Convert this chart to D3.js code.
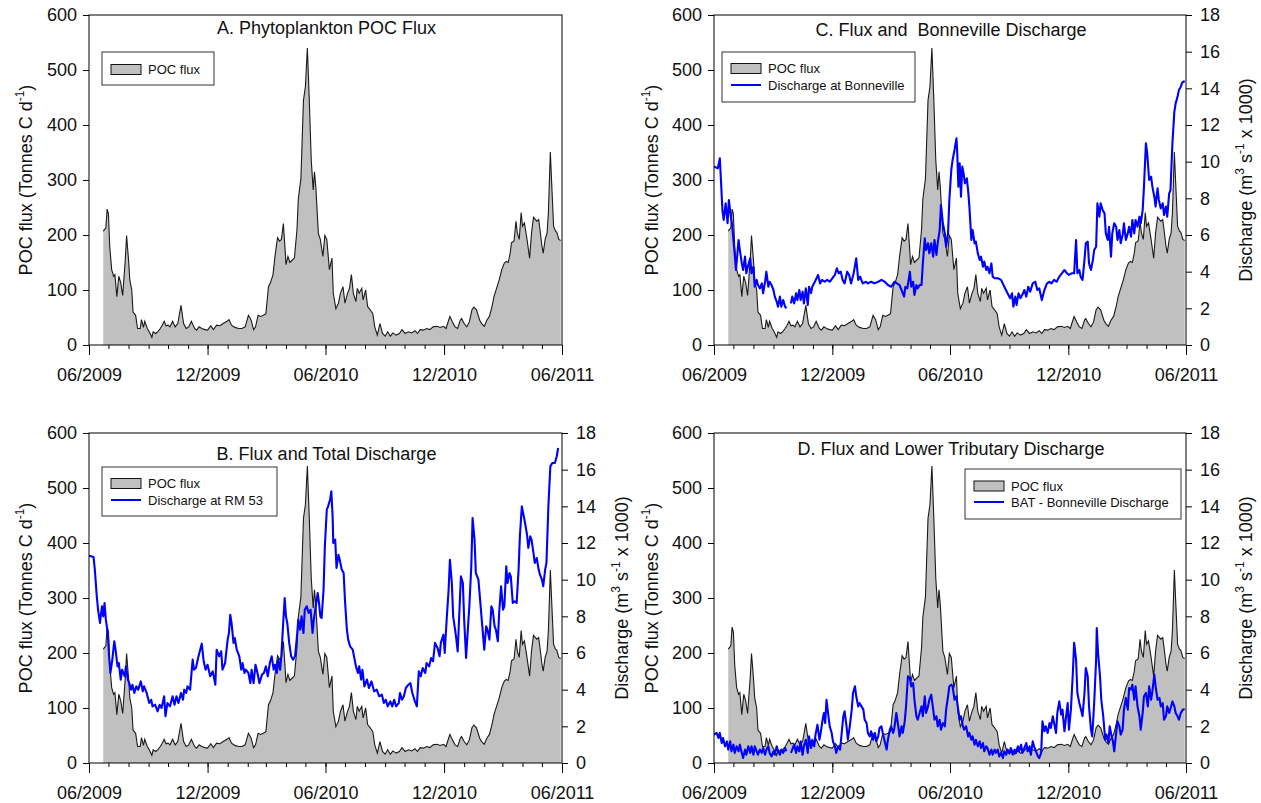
<!DOCTYPE html>
<html>
<head>
<meta charset="utf-8">
<script src="https://cdn.jsdelivr.net/npm/d3@7"></script>
<style>
  html, body { margin: 0; padding: 0; background: #fff; }
  svg { display: block; font-family: "Liberation Sans", Arial, sans-serif; }
</style>
</head>
<body>
<svg id="chart" width="1261" height="803"></svg>
<script>
// ---------------- DATA (day offset from startDate, value) ----------------
const startDate = "2009-06-01";
const endDate = "2011-06-01";
const majorTickDates = ["2009-06-01", "2009-12-01", "2010-06-01", "2010-12-01", "2011-06-01"];
const fluxTicks = [0, 100, 200, 300, 400, 500, 600];
const dischargeTicks = [0, 2, 4, 6, 8, 10, 12, 14, 16, 18];

// Phytoplankton POC flux, Tonnes C per day
const pocFlux = [[22,207],[26,213],[28,247],[30,238],[32,179],[35,137],[38,125],[40,128],[43,88],[46,125],[49,113],[52,90],[56,155],[58,199],[61,155],[63,118],[66,100],[68,60],[72,54],[75,30],[79,30],[81,46],[84,32],[86,43],[90,30],[93,24],[97,14],[99,24],[103,21],[106,24],[110,30],[113,36],[116,43],[119,35],[122,36],[125,33],[129,43],[133,33],[137,39],[142,72],[146,39],[150,30],[154,33],[158,43],[163,30],[166,27],[170,33],[174,30],[179,28],[183,27],[188,35],[192,28],[197,36],[202,35],[207,39],[213,43],[216,46],[220,36],[225,32],[231,30],[236,30],[241,33],[246,54],[250,46],[254,28],[257,33],[261,54],[265,52],[269,54],[273,57],[277,106],[280,113],[284,128],[287,161],[291,195],[294,189],[297,192],[300,221],[303,167],[304,146],[307,161],[310,150],[314,155],[317,158],[321,210],[323,265],[327,302],[331,445],[334,470],[337,540],[340,445],[343,336],[346,282],[348,315],[350,288],[354,203],[357,192],[361,161],[364,199],[367,192],[371,137],[375,158],[377,94],[381,66],[385,76],[388,94],[392,106],[395,76],[399,94],[402,103],[405,128],[408,94],[412,79],[414,103],[417,94],[421,103],[423,82],[427,100],[430,70],[434,64],[438,57],[441,33],[445,18],[449,39],[453,21],[457,16],[461,24],[465,16],[469,22],[474,18],[479,21],[483,28],[488,21],[493,24],[498,22],[503,26],[507,21],[511,28],[516,27],[521,30],[526,28],[531,33],[537,34],[542,32],[547,34],[551,30],[555,45],[557,52],[561,42],[565,33],[569,30],[573,45],[575,48],[579,39],[583,33],[587,42],[591,64],[594,69],[598,64],[603,45],[606,39],[610,34],[614,45],[618,52],[622,70],[625,88],[629,103],[633,118],[637,137],[641,149],[644,152],[647,150],[650,167],[652,186],[656,189],[659,225],[661,204],[664,192],[667,241],[669,216],[672,222],[676,192],[680,158],[683,204],[686,232],[689,228],[691,225],[694,228],[696,210],[699,180],[701,167],[704,192],[707,204],[709,241],[712,351],[714,296],[717,216],[720,207],[722,205],[725,192],[728,190]];

// Discharge at RM 53 (total), m3/s x 1000
const dischargeRM53 = [[0,11.31],[7,11.24],[9,10.55],[12,9.09],[14,8.36],[17,7.64],[20,8.55],[22,8.0],[24,8.73],[26,7.82],[29,7.09],[31,5.82],[33,4.91],[36,5.64],[39,6.64],[41,6.18],[44,5.27],[46,5.45],[49,4.55],[51,5.09],[55,4.73],[57,5.27],[60,4.55],[62,4.36],[65,4.0],[67,4.27],[70,3.82],[73,4.18],[76,4.0],[80,4.45],[83,3.91],[85,4.18],[89,3.82],[93,3.27],[96,3.45],[98,3.09],[102,3.18],[106,2.82],[109,3.18],[112,3.0],[116,3.64],[118,2.55],[121,3.27],[125,3.09],[129,3.64],[132,3.18],[135,3.64],[138,3.27],[142,3.82],[145,3.45],[147,4.0],[150,3.82],[152,4.18],[156,4.0],[160,5.64],[162,5.09],[165,5.18],[169,5.82],[171,6.09],[174,6.51],[177,5.55],[180,5.09],[183,5.36],[187,4.73],[191,5.0],[195,4.27],[197,6.18],[201,5.82],[204,6.09],[206,5.09],[210,5.45],[214,6.73],[216,7.09],[218,8.09],[220,7.64],[223,6.55],[225,6.82],[228,6.18],[232,5.82],[235,5.09],[237,5.45],[240,4.91],[242,5.09],[246,4.91],[249,4.36],[251,5.09],[254,4.36],[257,5.36],[260,4.91],[263,4.36],[267,4.82],[270,4.91],[273,5.27],[276,4.73],[279,5.45],[282,5.82],[285,5.09],[287,5.36],[290,4.91],[292,5.64],[295,5.09],[297,5.91],[300,7.82],[302,9.0],[304,8.0],[306,7.64],[309,6.55],[312,5.82],[315,5.64],[318,5.82],[321,6.91],[323,7.82],[326,7.27],[328,8.0],[331,7.09],[333,8.36],[336,8.55],[339,8.18],[342,8.36],[345,7.09],[347,7.82],[350,8.55],[353,9.27],[355,8.73],[357,8.0],[359,7.91],[362,9.45],[364,11.82],[367,13.82],[369,14.0],[372,14.36],[374,14.82],[376,13.45],[377,12.0],[380,12.18],[382,10.64],[385,11.36],[387,11.09],[390,10.55],[393,10.36],[395,8.91],[398,7.27],[400,6.73],[403,6.36],[407,6.18],[410,5.64],[412,5.27],[415,4.91],[417,5.27],[420,4.55],[422,5.09],[425,4.18],[429,4.55],[432,4.09],[436,4.45],[440,3.91],[444,4.0],[448,3.64],[452,3.73],[455,3.27],[458,3.45],[461,3.09],[465,3.36],[468,3.09],[471,3.45],[474,3.09],[478,3.27],[480,3.82],[483,3.45],[486,3.64],[489,4.09],[493,4.27],[496,4.36],[499,3.82],[503,3.36],[506,3.09],[509,5.0],[512,4.73],[515,5.18],[519,4.91],[521,5.45],[525,5.27],[528,5.73],[531,5.55],[534,6.55],[538,6.27],[541,5.82],[543,6.55],[547,7.0],[549,6.0],[552,7.82],[555,9.45],[557,11.09],[560,9.82],[562,8.0],[565,7.27],[567,6.73],[569,6.09],[572,8.55],[574,10.18],[577,9.82],[579,7.82],[582,5.73],[584,6.91],[587,8.55],[590,10.73],[592,13.36],[595,12.18],[597,10.36],[601,10.0],[604,8.73],[607,7.45],[610,6.18],[613,7.45],[615,7.27],[618,6.73],[621,8.55],[623,8.36],[626,7.45],[628,7.27],[631,6.64],[633,8.18],[636,9.64],[639,8.36],[641,8.55],[644,10.73],[646,9.82],[649,10.36],[651,10.18],[654,8.73],[657,8.82],[660,8.73],[663,10.55],[665,12.36],[668,14.0],[670,13.64],[673,13.09],[676,12.45],[678,11.73],[681,12.36],[683,12.18],[686,11.45],[688,10.91],[691,11.18],[694,10.55],[696,10.27],[699,10.0],[701,9.64],[704,10.55],[706,10.91],[709,14.0],[712,16.18],[715,16.36],[719,16.36],[722,16.73],[724,17.18]];

// Discharge at Bonneville, m3/s x 1000
const dischargeBonneville = [[0,9.73],[6,9.64],[9,10.18],[11,8.82],[13,7.36],[15,6.82],[18,7.73],[21,6.64],[23,7.91],[26,7.0],[28,6.55],[31,5.36],[34,4.09],[38,5.73],[40,5.18],[43,4.45],[45,4.09],[48,4.82],[50,3.91],[53,4.36],[56,4.73],[58,3.91],[61,4.27],[63,3.18],[66,3.55],[68,3.27],[71,3.09],[74,3.36],[76,2.82],[79,3.45],[81,4.0],[84,3.18],[86,3.45],[89,3.27],[92,3.0],[94,2.64],[97,2.36],[99,2.09],[102,2.64],[104,2.09],[107,2.45],[110,2.09],[112,2.0],[115,null],[119,2.27],[121,2.64],[124,2.27],[127,2.82],[129,2.45],[132,3.0],[134,2.45],[137,2.91],[139,2.27],[142,3.09],[145,2.18],[147,3.18],[150,2.82],[152,3.18],[156,3.45],[161,3.82],[164,3.36],[167,3.55],[171,3.45],[175,3.55],[179,3.45],[183,3.64],[187,3.82],[190,4.18],[193,3.91],[196,4.0],[199,3.55],[202,3.36],[206,4.0],[209,3.82],[212,3.36],[216,3.91],[220,4.73],[223,3.55],[226,3.73],[230,3.36],[235,3.45],[238,3.36],[243,3.45],[248,3.36],[254,3.45],[259,3.55],[264,3.45],[269,3.27],[274,3.18],[279,3.45],[283,3.36],[287,3.27],[291,2.91],[294,2.64],[296,3.18],[299,3.09],[303,4.0],[305,3.18],[308,3.45],[310,2.73],[313,3.27],[315,3.09],[318,3.27],[321,3.27],[323,4.45],[326,5.82],[328,5.18],[331,5.55],[333,5.0],[336,5.55],[339,4.82],[341,5.73],[344,4.91],[346,5.55],[349,6.27],[351,7.64],[354,6.64],[357,6.09],[359,5.36],[362,6.09],[364,7.91],[367,9.55],[369,10.09],[372,10.64],[375,11.27],[376,10.64],[378,8.64],[380,9.91],[382,8.09],[384,9.73],[386,9.36],[388,8.82],[391,9.09],[393,8.45],[395,7.55],[398,5.73],[400,6.27],[403,5.55],[405,5.64],[408,5.0],[411,4.64],[413,4.82],[416,4.27],[418,4.55],[421,4.09],[423,4.27],[426,3.91],[429,4.45],[431,3.73],[434,3.64],[439,3.64],[444,3.55],[449,3.18],[454,2.82],[458,2.55],[461,2.82],[463,2.09],[466,2.64],[468,2.18],[471,2.82],[474,2.55],[478,2.82],[480,3.0],[483,2.64],[486,3.18],[489,2.91],[493,3.36],[497,3.45],[500,3.0],[503,3.09],[507,2.45],[511,3.0],[515,3.36],[519,3.45],[522,3.36],[526,3.55],[530,3.45],[534,3.73],[538,3.91],[542,4.09],[546,3.91],[549,3.82],[553,3.91],[557,3.91],[560,5.73],[562,3.91],[565,4.09],[567,3.73],[570,3.55],[573,4.64],[575,5.55],[578,5.64],[580,4.45],[583,4.09],[586,4.64],[588,5.18],[591,5.36],[593,7.73],[596,7.0],[598,7.73],[601,7.36],[604,7.18],[606,6.09],[609,5.73],[611,6.45],[614,4.82],[616,6.09],[619,6.64],[622,6.45],[624,5.73],[627,6.27],[629,5.55],[632,6.0],[634,6.64],[637,5.73],[640,6.09],[642,6.45],[645,5.91],[647,6.82],[650,6.09],[652,6.82],[655,6.45],[658,7.0],[660,6.64],[663,7.36],[665,8.64],[668,11.0],[670,10.45],[673,9.0],[676,9.18],[678,8.64],[681,8.09],[683,7.55],[686,8.55],[688,7.91],[691,7.45],[694,7.73],[696,7.09],[699,7.55],[701,7.0],[704,8.27],[706,8.45],[709,11.0],[712,12.73],[714,13.18],[717,13.55],[719,13.91],[722,14.09],[724,14.31],[728,14.4]];

// BAT - Bonneville discharge (lower tributaries), m3/s x 1000
const dischargeLowerTrib = [[0,1.55],[4,1.64],[7,1.36],[9,1.64],[12,1.09],[14,1.36],[17,0.91],[20,1.18],[22,0.73],[25,1.18],[27,0.64],[30,1.0],[32,0.55],[35,0.91],[38,0.64],[40,1.0],[43,0.55],[45,0.27],[48,0.73],[50,0.45],[53,0.91],[56,0.55],[58,0.91],[61,0.45],[63,0.91],[66,0.64],[68,0.45],[71,0.73],[74,0.55],[76,0.82],[79,0.45],[81,0.73],[84,0.91],[86,0.55],[89,0.36],[92,0.64],[94,0.45],[97,0.91],[99,0.64],[102,0.45],[104,0.73],[107,0.55],[110,0.82],[112,0.64],[115,null],[119,0.55],[121,0.73],[124,1.0],[127,0.55],[129,0.91],[132,0.64],[134,1.18],[137,0.45],[139,0.91],[142,1.27],[145,0.55],[147,1.45],[150,0.82],[152,1.27],[155,0.91],[157,1.55],[160,2.09],[163,1.27],[165,1.64],[168,2.36],[170,2.73],[172,2.18],[174,3.45],[177,2.55],[179,2.0],[182,1.64],[184,1.18],[187,0.91],[189,0.55],[192,0.91],[195,0.73],[197,1.45],[200,2.55],[202,2.82],[205,2.0],[207,1.27],[210,2.0],[213,2.91],[215,3.82],[218,4.18],[220,3.64],[223,3.09],[225,3.27],[228,3.09],[231,2.91],[233,2.36],[236,2.18],[238,1.64],[241,1.45],[243,1.73],[246,1.27],[249,1.64],[251,1.18],[254,1.45],[256,1.91],[259,2.0],[261,1.64],[264,1.18],[267,0.73],[269,1.27],[272,1.82],[274,2.0],[277,1.64],[279,1.91],[282,2.73],[285,2.0],[287,1.45],[290,2.0],[292,1.64],[295,2.27],[297,3.09],[300,4.73],[303,4.64],[305,4.18],[308,4.36],[310,3.45],[313,2.55],[315,2.36],[318,2.73],[321,3.09],[323,2.55],[326,3.64],[328,2.73],[331,3.09],[333,3.45],[336,3.73],[339,2.91],[341,2.36],[344,2.55],[346,2.0],[349,2.36],[351,1.82],[354,2.18],[357,2.0],[359,2.91],[362,3.64],[364,4.18],[367,4.27],[369,4.18],[372,3.45],[375,3.64],[377,3.09],[380,2.36],[382,2.55],[385,2.0],[387,1.82],[390,2.0],[393,1.45],[395,1.64],[398,1.27],[400,1.45],[403,1.0],[405,1.27],[408,0.91],[411,1.18],[413,0.82],[416,1.09],[418,0.64],[421,0.91],[423,0.82],[426,0.45],[429,0.73],[431,0.45],[434,0.73],[436,0.55],[439,0.73],[441,0.36],[444,0.55],[447,0.27],[449,0.64],[452,0.45],[454,0.73],[457,0.55],[459,0.82],[462,0.45],[465,0.73],[467,0.55],[470,0.91],[472,0.64],[475,1.0],[477,0.55],[480,0.82],[483,1.09],[485,0.64],[488,0.91],[490,0.45],[493,1.18],[495,0.91],[498,0.64],[501,0.36],[503,0.27],[506,0.55],[508,2.27],[511,1.73],[513,2.0],[516,1.64],[519,2.18],[521,1.91],[524,2.55],[526,2.18],[529,1.64],[531,2.73],[534,3.36],[537,2.64],[539,2.91],[542,1.73],[544,2.36],[547,3.27],[549,1.82],[552,2.91],[555,4.91],[557,6.55],[560,5.64],[562,3.82],[565,3.27],[567,3.0],[570,2.55],[573,3.82],[575,5.18],[578,4.73],[580,3.09],[583,1.82],[585,1.45],[588,3.27],[591,5.64],[592,7.36],[594,6.0],[597,4.73],[599,3.45],[602,2.55],[605,1.27],[607,1.55],[610,1.09],[612,2.0],[615,1.45],[617,1.18],[619,0.64],[622,1.64],[624,2.27],[627,2.0],[629,1.55],[632,1.82],[634,2.91],[637,3.55],[640,2.91],[642,4.09],[645,4.0],[647,4.27],[650,3.45],[652,4.18],[655,3.09],[658,2.55],[660,1.82],[663,2.73],[665,3.64],[668,3.82],[671,3.09],[673,4.18],[676,3.45],[678,3.91],[681,4.82],[683,4.18],[686,3.45],[689,3.55],[691,3.09],[694,3.27],[696,2.36],[699,2.55],[701,3.09],[704,2.73],[707,3.09],[709,3.36],[712,3.09],[714,2.73],[717,2.55],[719,2.36],[722,2.73],[725,2.91],[728,2.95]];

// ---------------- LAYOUT ----------------
const panels = [
  { title: "A. Phytoplankton POC Flux", titleY: 34, x0: 89, x1: 562, y0: 15, y1: 345,
    blue: null, blueLabel: null,
    legend: { x: 102, y: 52, w: 112, h: 33, sx: 111, rows: [69.5] }, leftLabelX: 32, rightLabelX: null },
  { title: "C. Flux and  Bonneville Discharge", titleY: 36, x0: 714, x1: 1186, y0: 15, y1: 345,
    blue: dischargeBonneville, blueLabel: "Discharge at Bonneville",
    legend: { x: 722, y: 52, w: 193, h: 50, sx: 731, rows: [68.5, 85] }, leftLabelX: 658, rightLabelX: 1252 },
  { title: "B. Flux and Total Discharge", titleY: 460, x0: 89, x1: 562, y0: 433, y1: 763,
    blue: dischargeRM53, blueLabel: "Discharge at RM 53",
    legend: { x: 102, y: 467, w: 175, h: 49, sx: 111, rows: [483.5, 500] }, leftLabelX: 32, rightLabelX: 628 },
  { title: "D. Flux and Lower Tributary Discharge", titleY: 455, x0: 714, x1: 1186, y0: 433, y1: 763,
    blue: dischargeLowerTrib, blueLabel: "BAT - Bonneville Discharge",
    legend: { x: 965, y: 469, w: 216, h: 50, sx: 974, rows: [486, 502] }, leftLabelX: 658, rightLabelX: 1252 }
];

const BLUE = "#0000ff";
const GREY = "#c0c0c0";
const parse = d3.utcParse("%Y-%m-%d");
const t0 = parse(startDate), t1 = parse(endDate);
const toDate = d => d3.utcDay.offset(t0, d);

const svg = d3.select("#chart");

panels.forEach((p, i) => {
  const x = d3.scaleUtc().domain([t0, t1]).range([p.x0, p.x1]);
  const y = d3.scaleLinear().domain([0, 600]).range([p.y1, p.y0]);
  const y2 = d3.scaleLinear().domain([0, 18]).range([p.y1, p.y0]);
  const g = svg.append("g");

  const clipId = "clip" + i;
  svg.append("clipPath").attr("id", clipId).append("rect")
    .attr("x", p.x0).attr("y", p.y0).attr("width", p.x1 - p.x0).attr("height", p.y1 - p.y0);
  const plot = g.append("g").attr("clip-path", `url(#${clipId})`);

  // POC area + outline
  plot.append("path").datum(pocFlux)
    .attr("fill", GREY)
    .attr("d", d3.area().x(d => x(toDate(d[0]))).y0(y(0)).y1(d => y(d[1])));
  plot.append("path").datum(pocFlux)
    .attr("fill", "none").attr("stroke", "#1a1a1a").attr("stroke-width", 1.1)
    .attr("d", d3.line().x(d => x(toDate(d[0]))).y(d => y(d[1])));

  if (p.blue) {
    plot.append("path").datum(p.blue)
      .attr("fill", "none").attr("stroke", BLUE).attr("stroke-width", 2.1)
      .attr("stroke-linejoin", "round")
      .attr("d", d3.line().defined(d => d[1] != null).x(d => x(toDate(d[0]))).y(d => y2(d[1])));
  }

  // frame
  g.append("rect").attr("x", p.x0).attr("y", p.y0)
    .attr("width", p.x1 - p.x0).attr("height", p.y1 - p.y0)
    .attr("fill", "none").attr("stroke", "#000").attr("stroke-width", 1);

  // x axis: minor monthly and major 6-monthly
  const minor = g.append("g").attr("transform", `translate(0,${p.y1})`)
    .call(d3.axisBottom(x).ticks(d3.utcMonth.every(1)).tickSize(4).tickSizeOuter(0).tickFormat(""));
  minor.select(".domain").remove();
  const major = g.append("g").attr("transform", `translate(0,${p.y1})`)
    .call(d3.axisBottom(x).tickValues(majorTickDates.map(parse)).tickSize(10).tickSizeOuter(0)
      .tickPadding(13).tickFormat(d3.utcFormat("%m/%Y")));
  major.select(".domain").remove();

  // left axis
  const la = g.append("g").attr("transform", `translate(${p.x0},0)`)
    .call(d3.axisLeft(y).tickValues(fluxTicks).tickSize(6).tickSizeOuter(0).tickPadding(6));
  la.select(".domain").remove();

  // right axis
  if (p.blue) {
    const ra = g.append("g").attr("transform", `translate(${p.x1},0)`)
      .call(d3.axisRight(y2).tickValues(dischargeTicks).tickSize(6).tickSizeOuter(0).tickPadding(8));
    ra.select(".domain").remove();
  }

  g.selectAll(".tick line").attr("stroke", "#000");
  g.selectAll(".tick text").attr("font-size", 18).attr("fill", "#111")
    .attr("font-family", '"Liberation Sans", Arial, sans-serif');

  // title
  g.append("text").attr("x", (p.x0 + p.x1) / 2 + 1).attr("y", p.titleY)
    .attr("text-anchor", "middle").attr("font-size", 18).attr("fill", "#111")
    .style("white-space", "pre").text(p.title);

  // left axis label
  const ly = (p.y0 + p.y1) / 2;
  const lt = g.append("text").attr("transform", `translate(${p.leftLabelX},${ly}) rotate(-90)`)
    .attr("text-anchor", "middle").attr("font-size", 18).attr("fill", "#111");
  lt.append("tspan").text("POC flux (Tonnes C d");
  lt.append("tspan").attr("font-size", 12).attr("dy", -8).text("-1");
  lt.append("tspan").attr("dy", 8).text(")");

  if (p.rightLabelX) {
    const rt = g.append("text").attr("transform", `translate(${p.rightLabelX},${ly}) rotate(-90)`)
      .attr("text-anchor", "middle").attr("font-size", 18).attr("fill", "#111");
    rt.append("tspan").text("Discharge (m");
    rt.append("tspan").attr("font-size", 12).attr("dy", -8).text("3");
    rt.append("tspan").attr("dy", 8).text(" s");
    rt.append("tspan").attr("font-size", 12).attr("dy", -8).text("-1");
    rt.append("tspan").attr("dy", 8).text(" x 1000)");
  }

  // legend
  const L = p.legend;
  const lg = g.append("g");
  lg.append("rect").attr("x", L.x).attr("y", L.y).attr("width", L.w).attr("height", L.h)
    .attr("fill", "#fff").attr("stroke", "#333").attr("stroke-width", 1);
  lg.append("rect").attr("x", L.sx).attr("y", L.rows[0] - 5).attr("width", 30).attr("height", 10)
    .attr("fill", GREY).attr("stroke", "#111").attr("stroke-width", 1);
  lg.append("text").attr("x", L.sx + 37).attr("y", L.rows[0] + 4.6)
    .attr("font-size", 13).attr("fill", "#111").text("POC flux");
  if (p.blue) {
    lg.append("line").attr("x1", L.sx).attr("x2", L.sx + 30)
      .attr("y1", L.rows[1]).attr("y2", L.rows[1])
      .attr("stroke", BLUE).attr("stroke-width", 2);
    lg.append("text").attr("x", L.sx + 37).attr("y", L.rows[1] + 4.6)
      .attr("font-size", 13).attr("fill", "#111").text(p.blueLabel);
  }
});
</script>
</body>
</html>
